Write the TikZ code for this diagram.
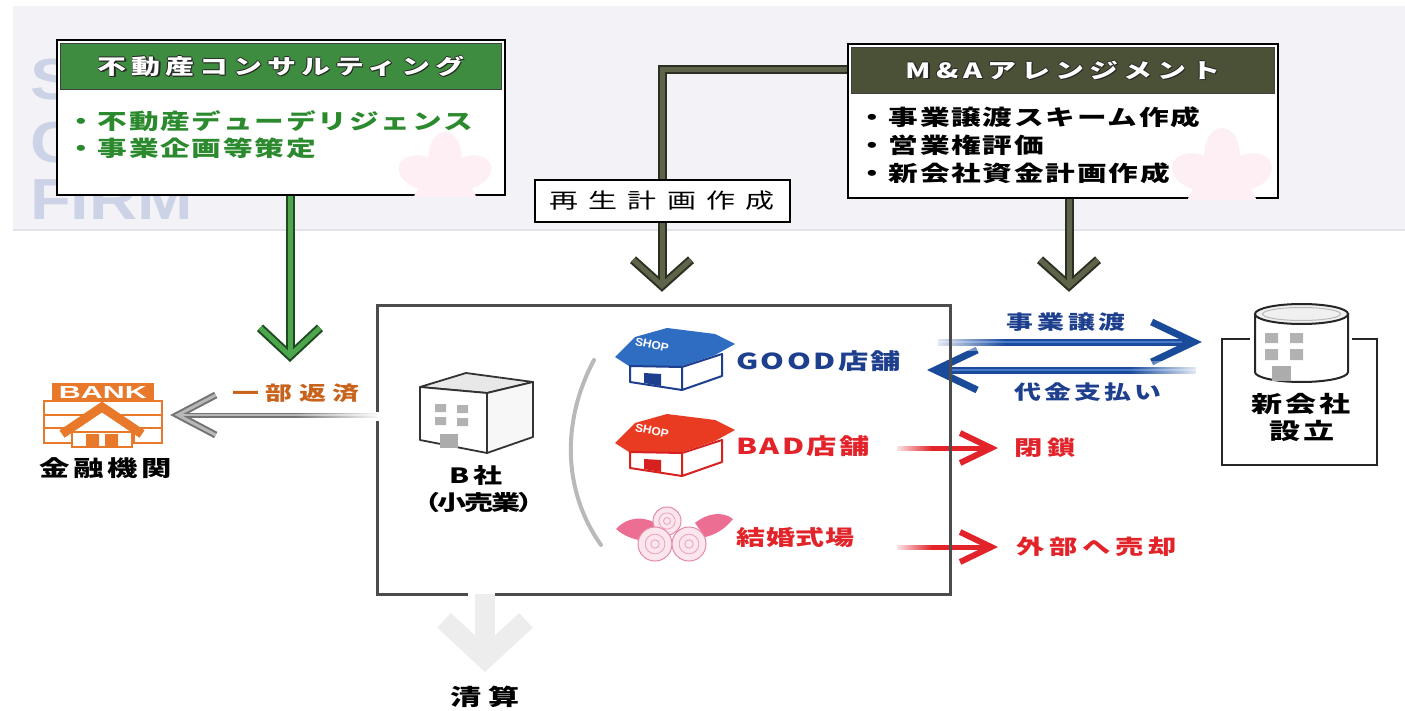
\documentclass[tikz,border=0pt]{standalone}
\usepackage{fontspec}
\usepackage{graphicx}
\setmainfont{Noto Sans CJK JP}
\newfontfamily\latinsans{Liberation Sans}
\usetikzlibrary{arrows.meta,fadings,calc}

% palette
\definecolor{band}{HTML}{F3F3F7}
\definecolor{bandedge}{HTML}{E2E2EA}
\definecolor{wm}{HTML}{CDD3E6}
\definecolor{sakura}{HTML}{FDEFF3}
\definecolor{hdrgreen}{HTML}{3E8C3F}
\definecolor{txtgreen}{HTML}{2C8A2E}
\definecolor{hdrolive}{HTML}{4B5137}
\definecolor{arrgreen}{HTML}{4DA54C}
\definecolor{arrgreenD}{HTML}{1E4A22}
\definecolor{oliveA}{HTML}{5E6449}
\definecolor{oliveD}{HTML}{2C3022}
\definecolor{navy}{HTML}{1D3F8D}
\definecolor{blueD}{HTML}{1A4B9A}
\definecolor{blueL}{HTML}{4A7BCB}
\definecolor{redA}{HTML}{E2232A}
\definecolor{payor}{HTML}{C8631C}
\definecolor{bankor}{HTML}{E8782A}
\definecolor{shopblue}{HTML}{2F6DC2}
\definecolor{shopline}{HTML}{1E3F90}
\definecolor{shopred}{HTML}{E93A22}
\definecolor{shoplineR}{HTML}{D7211F}
\definecolor{rose}{HTML}{EC6F93}
\definecolor{roseD}{HTML}{E58AA6}
\definecolor{roseL}{HTML}{FCE6EE}

% white overlays that fade the loose end of a shaft
\tikzfading[name=ovL, left color=transparent!0, right color=transparent!100]
\tikzfading[name=ovR, left color=transparent!100, right color=transparent!0]

% wide-set lettering
\newcommand\W[1]{\scalebox{1.38}[1]{#1}}
% white lettering with a dark rim
\newcommand\halo[1]{\leavevmode
  \rlap{\kern1.3pt\raisebox{-1.3pt}{\textcolor{black!85}{#1}}}%
  \rlap{\kern-0.7pt\textcolor{black!85}{#1}}%
  \rlap{\kern0.7pt\textcolor{black!85}{#1}}%
  \rlap{\raisebox{0.7pt}{\textcolor{black!85}{#1}}}%
  \rlap{\raisebox{-0.7pt}{\textcolor{black!85}{#1}}}%
  \textcolor{white}{#1}}

% five-petal blossom
\newcommand\sakura[3]{%
  \foreach \a in {0,72,144,216,288}{%
    \fill[sakura, rotate around={\a+18:(#1,#2)}] (#1+0.5*#3,#2) ellipse [x radius=0.5*#3, y radius=0.34*#3];}}

% shop icon: name, x, y, roof colour, line colour
\newcommand\shopicon[5]{%
  \begin{scope}[shift={(#2,#3)}]
    \fill[#4] (0,29) -- (20,9) -- (52,0) -- (100,6) -- (120,16) -- (100,27) -- (67,38) -- (14,38) -- cycle;
    \draw[#5, fill=white, line width=2pt, line join=round] (15,38) -- (67,39) -- (67,62) -- (15,54) -- cycle;
    \draw[#5, fill=white, line width=2pt, line join=round] (67,39) -- (107,26) -- (107,48) -- (67,62) -- cycle;
    \fill[#5] (29,45) -- (46,46) -- (46,58) -- (29,55) -- cycle;
    \node[rotate=-12, text=white, inner sep=0pt] (#1) at (37,17) {\resizebox{34pt}{8pt}{\latinsans\bfseries SHOP}};
  \end{scope}}

% bouquet of roses
\newcommand\roseicon[2]{%
  \begin{scope}[shift={(#1,#2)}]
    \fill[rose] (1,22) .. controls (12,10) and (28,8) .. (44,18) -- (34,34) .. controls (22,34) and (10,30) .. (1,22) -- cycle;
    \fill[rose] (118,12) .. controls (108,4) and (92,6) .. (80,16) -- (90,30) .. controls (100,28) and (110,22) .. (118,12) -- cycle;
    \foreach \cx/\cy/\r in {52/14/14, 40/37/17, 74/37/17}{%
      \draw[roseD, fill=roseL, line width=1pt] (\cx,\cy) circle [radius=\r];
      \draw[roseD!80, line width=0.8pt] (\cx,\cy) circle [radius=0.58*\r];
      \draw[roseD!80, line width=0.8pt] (\cx,\cy) circle [radius=0.25*\r];}
  \end{scope}}

\tikzset{
  jtxt/.style n args={3}{font=\fontsize{#1}{#1}\selectfont\bfseries\addfontfeature{LetterSpace=#2}, text=#3, inner sep=0pt},
  jtxtR/.style n args={3}{font=\fontsize{#1}{#1}\selectfont\addfontfeature{LetterSpace=#2}, text=#3, inner sep=0pt},
  wmark/.style={font=\latinsans\bfseries\fontsize{58}{58}\selectfont, text=wm, inner sep=0pt},
  svcbox/.style={draw=black, line width=2.5pt, fill=white, inner sep=0pt},
  hdrbar/.style={draw=black!75, line width=1.2pt, inner sep=0pt,
    font=\fontsize{21}{21}\selectfont\bfseries\addfontfeature{LetterSpace=17}},
  bline/.style={draw=black!70, line width=3pt, line join=miter},
  bldg/.style={draw=black!80, line width=1.8pt, line join=round},
  gO/.style={draw=arrgreenD, line width=9pt, -{Straight Barb[length=28pt,width=60pt,line width=9pt]}},
  gI/.style={draw=arrgreen, line width=5pt, -{Straight Barb[length=28pt,width=60pt,line width=5pt]}},
  oO/.style={draw=oliveD, line width=9pt, line join=miter, -{Straight Barb[length=26pt,width=58pt,line width=9pt]}},
  oI/.style={draw=oliveA, line width=5pt, line join=miter, -{Straight Barb[length=26pt,width=58pt,line width=5pt]}},
  gyO/.style={draw=black!55, line width=5pt, -{Straight Barb[length=38pt,width=40pt,line width=7pt]}},
  gyI/.style={draw=black!28, line width=1.5pt, -{Straight Barb[length=38pt,width=40pt,line width=3pt]}},
  bO/.style={draw=blueD, line width=7pt, -{Straight Barb[length=42pt,width=40pt,line width=7pt]}},
  bI/.style={draw=blueL, line width=2pt},
  rO/.style={draw=redA, line width=5pt, -{Straight Barb[length=31pt,width=30pt,line width=6pt]}},
  liq/.style={draw=black!7, line width=20pt, -{Straight Barb[length=38pt,width=82pt,line width=20pt]}},
}

\begin{document}
\begin{tikzpicture}[x=1pt,y=-1pt]
\useasboundingbox (0,0) rectangle (1405,711);
\fill[white] (0,0) rectangle (1405,711);

% backdrop band with the firm's watermark
\fill[band] (13,6) rectangle (1405,230);
\draw[bandedge, line width=1.2pt] (13,230) -- (1405,230);
\node[wmark, anchor=base west] (wmS) at (30,100) {\scalebox{1.15}[1]{S}};
\node[wmark, anchor=base west] (wmC) at (30,163) {\scalebox{1.15}[1]{C}};
\node[wmark, anchor=base west] (wmFIRM) at (30,220) {\scalebox{1.15}[1]{FIRM}};

% service boxes
\node[svcbox, minimum width=448pt, minimum height=155pt] (lbox) at (281,117.5) {};
\node[svcbox, minimum width=430pt, minimum height=154pt] (mbox) at (1063,121) {};
\begin{scope}
  \clip (lbox.south west) rectangle (lbox.north east);
  \sakura{445}{180}{48}
\end{scope}
\begin{scope}
  \clip (mbox.south west) rectangle (mbox.north east);
  \sakura{1222}{180}{52}
\end{scope}
\node[hdrbar, fill=hdrgreen, minimum width=441pt, minimum height=46pt] (lhdr) at (281,66.5) {\halo{\W{不動産コンサルティング}}};
\node[hdrbar, fill=hdrolive, minimum width=423pt, minimum height=46pt] (mhdr) at (1063,70.5) {\halo{\W{M\&Aアレンジメント}}};
\node[jtxt={21.5}{6}{txtgreen}, anchor=west] (l1) at (66,121) {\W{・不動産デューデリジェンス}};
\node[jtxt={21.5}{6}{txtgreen}, anchor=west] (l2) at (66,148) {\W{・事業企画等策定}};
\node[jtxt={21.5}{6}{black}, anchor=west] (m1) at (857,117) {\W{・事業譲渡スキーム作成}};
\node[jtxt={21.5}{6}{black}, anchor=west] (m2) at (857,145) {\W{・営業権評価}};
\node[jtxt={21.5}{6}{black}, anchor=west] (m3) at (857,173) {\W{・新会社資金計画作成}};

% frames of the company, the new company and the bank
\node[minimum width=572pt, minimum height=288pt, inner sep=0pt] (bbox) at (664,450) {};
\node[minimum width=155pt, minimum height=126pt, inner sep=0pt] (newco) at (1299.5,402) {};
\node[minimum width=120pt, minimum height=64pt, inner sep=0pt] (bank) at (103,415) {};

% labels
\node[jtxt={19.5}{23}{payor}] (repay) at (296,393) {\W{一部返済}};
\node[jtxt={22}{12}{black}] (bankL) at (106,468) {\W{金融機関}};
\node[jtxt={21}{15}{black}] (bName) at (476,476) {\W{B社}};
\node[jtxt={21}{-8}{black}] (bSub) at (479,503) {\W{（小売業）}};
\node[jtxt={22}{8}{navy}, anchor=west] (goodL) at (736,361) {\W{GOOD店舗}};
\node[jtxt={22}{8}{redA}, anchor=west] (badL) at (736,446) {\W{BAD店舗}};
\node[jtxt={21}{3}{redA}, anchor=west] (wedL) at (736,538) {\W{結婚式場}};
\node[jtxt={19.5}{15}{navy}] (xfL) at (1066,322) {\W{事業譲渡}};
\node[jtxt={19.5}{12}{navy}] (paL) at (1088,392) {\W{代金支払い}};
\node[jtxt={22.5}{9}{black}] (ncL1) at (1301,404) {\W{新会社}};
\node[jtxt={22.5}{9}{black}] (ncL2) at (1302,431) {\W{設立}};
\node[jtxt={20.5}{17}{redA}, anchor=west] (closeL) at (1014,448) {\W{閉鎖}};
\node[jtxt={20.5}{17}{redA}, anchor=west] (sellL) at (1016,547) {\W{外部へ売却}};
\node[jtxt={22.5}{21}{black}] (liqL) at (485,697) {\W{清算}};

% connector anchors
\coordinate (gX) at (290,0);
\coordinate (gTip) at (290,362);
\coordinate (oBend) at (662,70);
\coordinate (oX) at (1069,0);
\coordinate (xfS) at (938,342);
\coordinate (paT) at (927,370);
\coordinate (clS) at (897,448);
\coordinate (slS) at (897,547);

% consulting arrow
\draw[gO] (lbox.south -| gX) -- (gTip);
\draw[gI, shorten >=2.8pt] (lbox.south -| gX) -- (gTip);
% restructuring plan and M&A arrows
\draw[oO, shorten >=14pt] (mbox.west |- oBend) -- (oBend) -- (bbox.north -| oBend);
\draw[oI, shorten >=16.8pt] (mbox.west |- oBend) -- (oBend) -- (bbox.north -| oBend);
\draw[oO, shorten >=14pt] (mbox.south -| oX) -- (bbox.north -| oX);
\draw[oI, shorten >=16.8pt] (mbox.south -| oX) -- (bbox.north -| oX);
% partial repayment
\draw[gyO, shorten >=7pt] (bbox.west |- bank.east) -- (bank.east);
\draw[gyI, shorten >=11.3pt] (bbox.west |- bank.east) -- (bank.east);
% business transfer and payment
\draw[bO, shorten >=20pt] (xfS) -- (newco.west |- xfS);
\draw[bI, shorten >=40pt] (xfS) -- (newco.west |- xfS);
\draw[bO, shorten <=26pt] (newco.west |- paT) -- (paT);
\draw[bI, shorten <=26pt, shorten >=22pt] (newco.west |- paT) -- (paT);
% closure and sale
\draw[rO, shorten >=16pt] (clS) -- (closeL.west);
\draw[rO, shorten >=18pt] (slS) -- (sellL.west);
% liquidation
\draw[liq, shorten >=14pt] (bbox.south -| liqL) -- (liqL.north);

% faded shaft ends
\fill[white, path fading=ovL] (928,333) rectangle (1005,351);
\fill[white, path fading=ovR] (1130,361) rectangle (1205,379);
\fill[white, path fading=ovL] (892,441) rectangle (932,455);
\fill[white, path fading=ovL] (892,540) rectangle (932,554);
\fill[white, path fading=ovR] (295,409) rectangle (382,425);

% plan label on the connector
\node[draw=black, line width=2pt, fill=white, minimum width=255pt, minimum height=42pt, jtxtR={21}{35}{black}] (regen) at (662,201) {\W{再生計画作成}};

% company frame with openings
\draw[bline] ($(bbox.north west)+(0,106)$) -- (bbox.north west) -- (bbox.north east) -- (bbox.south east) -- ($(bbox.south west)+(117,0)$);
\draw[bline] ($(bbox.south west)+(90,0)$) -- (bbox.south west) -- ($(bbox.north west)+(0,115)$);

% new company frame
\draw[draw=black!85, line width=2pt] ($(newco.north west)+(28,0)$) -- (newco.north west) -- (newco.south west) -- (newco.south east) -- (newco.north east) -- ($(newco.north east)+(-25,0)$);
\draw[black!85, fill=white, line width=2pt] (1255,314) -- (1255,372) arc[start angle=180, end angle=0, x radius=46.5, y radius=10] -- (1348,314) -- cycle;
\draw[black!85, fill=gray!12, line width=2pt] (1301.5,314) ellipse [x radius=46.5, y radius=10];
\draw[gray!55, line width=1pt] (1301.5,314) ellipse [x radius=39, y radius=6.5];
\fill[gray!60] (1265,333) rectangle (1278,343) (1290,333) rectangle (1303,343)
               (1265,349) rectangle (1278,360) (1290,349) rectangle (1303,360);
\fill[gray!65] (1272,366) rectangle (1291,381);

% bank icon
\fill[bankor] (52,383) rectangle (154,401);
\node[text=white, inner sep=0pt] (bankSign) at (103,392) {\resizebox{88pt}{12pt}{\latinsans\bfseries BANK}};
\draw[bankor, fill=white, line width=2.5pt] (44,401) rectangle (162,415);
\draw[bankor, line width=2.5pt] (44,415) -- (44,428) (162,415) -- (162,428);
\draw[bankor, fill=white, line width=2.5pt] (44,428) rectangle (72,443);
\draw[bankor, fill=white, line width=2.5pt] (134,428) rectangle (162,443);
\fill[white] (66,432) -- (102,409) -- (138,432) -- cycle;
\draw[bankor, line width=9pt, line join=miter] (62,434) -- (102,407) -- (142,434);
\draw[bankor, fill=white, line width=2.5pt] (72,432) rectangle (132,447);
\fill[bankor] (86,434) rectangle (99,447) (105,434) rectangle (118,447);

% company building
\filldraw[bldg, fill=gray!18] (420,387) -- (466,373) -- (533,382) -- (487,393) -- cycle;
\filldraw[bldg, fill=white] (420,387) -- (487,393) -- (487,453) -- (420,440) -- cycle;
\filldraw[bldg, fill=gray!6] (487,393) -- (533,382) -- (533,437) -- (487,453) -- cycle;
\fill[gray!60] (435,404) rectangle (446,412) (457,405) rectangle (468,413)
               (435,417) rectangle (446,425) (457,418) rectangle (468,426);
\fill[gray!65] (440,434) rectangle (458,448);

% bracket round the business units
\draw[gray!55, line width=4pt, line cap=round] (594,360) .. controls (562,420) and (562,490) .. (601,545);

% business units
\shopicon{goodSign}{615}{328}{shopblue}{shopline}
\shopicon{badSign}{615}{414}{shopred}{shoplineR}
\roseicon{615}{507}
\end{tikzpicture}
\end{document}
